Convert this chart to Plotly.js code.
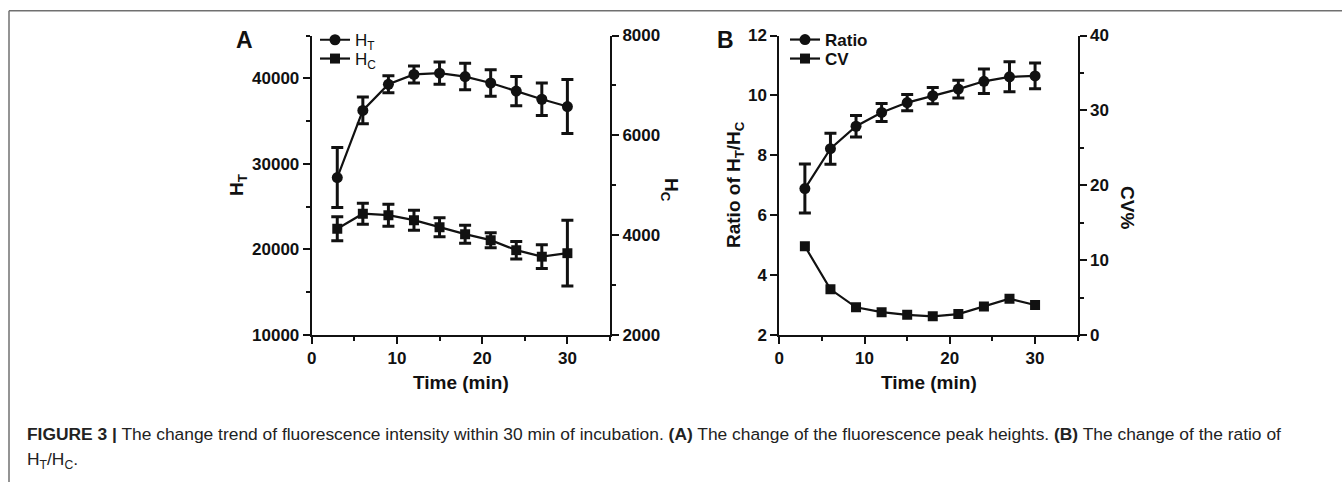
<!DOCTYPE html>
<html>
<head>
<meta charset="utf-8">
<script src="https://cdn.plot.ly/plotly-3.0.1.min.js"></script>
<style>
html,body{margin:0;padding:0;background:#fff;}
#chart{width:1342px;height:482px;}
</style>
</head>
<body>
<div id="chart"></div>
<script>
// ---- data ----
const timeMin = [3, 6, 9, 12, 15, 18, 21, 24, 27, 30];

// Panel A
const hT      = [28400, 36250, 39300, 40450, 40600, 40200, 39450, 38500, 37550, 36700];
const hTErr   = [3500, 1550, 1000, 1000, 1300, 1550, 1550, 1700, 1900, 3150];
const hC      = [4130, 4430, 4400, 4300, 4160, 4020, 3900, 3700, 3570, 3640];
const hCErr   = [240, 210, 220, 200, 190, 180, 150, 175, 240, 660];

// Panel B
const ratio    = [6.89, 8.22, 8.97, 9.43, 9.76, 9.99, 10.21, 10.47, 10.62, 10.65];
const ratioErr = [0.82, 0.52, 0.36, 0.30, 0.27, 0.27, 0.30, 0.41, 0.50, 0.43];
const cv       = [11.85, 6.1, 3.7, 3.05, 2.7, 2.5, 2.8, 3.8, 4.85, 4.0];

const seriesNames = ['H<sub>T</sub>', 'H<sub>C</sub>', 'Ratio', 'CV'];

// ---- styling ----
const W = 1342, H = 482;
const px = v => v / W;
const py = v => 1 - v / H;
const FONT = 'Liberation Sans, Arial, Helvetica, sans-serif';
const BLK = '#111111';

function errObj(arr) {
  return {type: 'data', array: arr, visible: true, color: BLK, thickness: 3, width: 6};
}
function tr(x, y, name, sym, xa, ya, err, legend) {
  const t = {
    x: x, y: y, name: name, type: 'scatter', mode: 'lines+markers',
    xaxis: xa, yaxis: ya, legend: legend,
    line: {color: BLK, width: 2.2},
    marker: {color: BLK, symbol: sym, size: sym === 'square' ? 10 : 11}
  };
  if (err) t.error_y = errObj(err);
  return t;
}

const data = [
  tr(timeMin, hT, seriesNames[0], 'circle', 'x', 'y', hTErr, 'legend'),
  tr(timeMin, hC, seriesNames[1], 'square', 'x', 'y2', hCErr, 'legend2'),
  tr(timeMin, ratio, seriesNames[2], 'circle', 'x2', 'y3', ratioErr, 'legend3'),
  tr(timeMin, cv, seriesNames[3], 'square', 'x2', 'y4', null, 'legend4')
];

const tickFont = {family: FONT, size: 17, color: BLK, weight: 'bold'};
function axBase(extra) {
  return Object.assign({
    showgrid: false, zeroline: false, showline: true, linecolor: BLK, linewidth: 2,
    ticks: 'outside', ticklen: 7, tickwidth: 2, tickcolor: BLK,
    tickfont: tickFont, fixedrange: true, tickformat: 'd'
  }, extra);
}
const minor = d => ({dtick: d, ticks: 'outside', ticklen: 4, tickwidth: 2, tickcolor: BLK, showgrid: false});

const domA = [px(311.7), px(610)];
const domB = [px(779.3), px(1077.7)];
const domY = [py(335), py(35.5)];

function leg(xPix, yCenter, bold) {
  return {x: px(xPix), y: py(yCenter - 17), xanchor: 'left', yanchor: 'top', bgcolor: 'rgba(0,0,0,0)',
          font: {family: FONT, size: 17, color: BLK, weight: bold ? 'bold' : 'normal'}, itemwidth: 30};
}

const layout = {
  width: W, height: H,
  margin: {l: 0, r: 0, t: 0, b: 0},
  paper_bgcolor: '#fff', plot_bgcolor: 'rgba(0,0,0,0)',
  font: {family: FONT, color: BLK},
  xaxis: axBase({domain: domA, range: [0, 35], tick0: 0, dtick: 10, anchor: 'y', minor: minor(5)}),
  yaxis: axBase({domain: domY, range: [10000, 45000], tick0: 10000, dtick: 10000, anchor: 'x', minor: minor(5000)}),
  yaxis2: axBase({domain: domY, range: [2000, 8000], tick0: 2000, dtick: 2000, overlaying: 'y', side: 'right', anchor: 'x', minor: minor(1000)}),
  xaxis2: axBase({domain: domB, range: [0, 35], tick0: 0, dtick: 10, anchor: 'y3', minor: minor(5)}),
  yaxis3: axBase({domain: domY, range: [2, 12], tick0: 2, dtick: 2, anchor: 'x2'}),
  yaxis4: axBase({domain: domY, range: [0, 40], tick0: 0, dtick: 10, overlaying: 'y3', side: 'right', anchor: 'x2', minor: minor(5)}),
  showlegend: true,
  legend: leg(315, 39.2, false),
  legend2: leg(315, 58, false),
  legend3: leg(785, 39, true),
  legend4: leg(785, 58, true),
  shapes: [
    {type: 'line', xref: 'paper', yref: 'paper', x0: px(9), x1: 1, y0: py(10.7), y1: py(10.7), line: {color: '#707070', width: 1.5}},
    {type: 'line', xref: 'paper', yref: 'paper', x0: px(9), x1: px(9), y0: py(10.7), y1: 0, line: {color: '#707070', width: 1.5}}
  ],
  annotations: [
    {text: '<b>A</b>', x: px(244), y: py(40), xref: 'paper', yref: 'paper', showarrow: false, xanchor: 'center', yanchor: 'middle', font: {family: FONT, size: 23, color: BLK}},
    {text: '<b>B</b>', x: px(725), y: py(40), xref: 'paper', yref: 'paper', showarrow: false, xanchor: 'center', yanchor: 'middle', font: {family: FONT, size: 23, color: BLK}},
    {text: '<b>H<sub>T</sub></b>', x: px(238), y: py(185), xref: 'paper', yref: 'paper', showarrow: false, textangle: -90, xanchor: 'center', yanchor: 'middle', font: {family: FONT, size: 19, color: BLK}},
    {text: '<b>H<sub>C</sub></b>', x: px(670), y: py(190), xref: 'paper', yref: 'paper', showarrow: false, textangle: 90, xanchor: 'center', yanchor: 'middle', font: {family: FONT, size: 19, color: BLK}},
    {text: '<b>Ratio of H<sub>T</sub>/H<sub>C</sub></b>', x: px(735), y: py(185), xref: 'paper', yref: 'paper', showarrow: false, textangle: -90, xanchor: 'center', yanchor: 'middle', font: {family: FONT, size: 19, color: BLK}},
    {text: '<b>CV%</b>', x: px(1128), y: py(207), xref: 'paper', yref: 'paper', showarrow: false, textangle: 90, xanchor: 'center', yanchor: 'middle', font: {family: FONT, size: 19, color: BLK}},
    {text: '<b>Time (min)</b>', x: px(461), y: py(382), xref: 'paper', yref: 'paper', showarrow: false, xanchor: 'center', yanchor: 'middle', font: {family: FONT, size: 19, color: BLK}},
    {text: '<b>Time (min)</b>', x: px(929), y: py(382), xref: 'paper', yref: 'paper', showarrow: false, xanchor: 'center', yanchor: 'middle', font: {family: FONT, size: 19, color: BLK}},
    {text: '<b>FIGURE 3 |</b> The change trend of fluorescence intensity within 30 min of incubation. <b>(A)</b> The change of the fluorescence peak heights. <b>(B)</b> The change of the ratio of',
     x: px(25), y: py(434), xref: 'paper', yref: 'paper', showarrow: false, xanchor: 'left', yanchor: 'middle', font: {family: FONT, size: 17.4, color: '#222'}},
    {text: 'H<sub>T</sub>/H<sub>C</sub>.',
     x: px(25), y: py(460), xref: 'paper', yref: 'paper', showarrow: false, xanchor: 'left', yanchor: 'middle', font: {family: FONT, size: 17.4, color: '#222'}}
  ]
};

Plotly.newPlot('chart', data, layout, {displayModeBar: false, staticPlot: true});
</script>
</body>
</html>
